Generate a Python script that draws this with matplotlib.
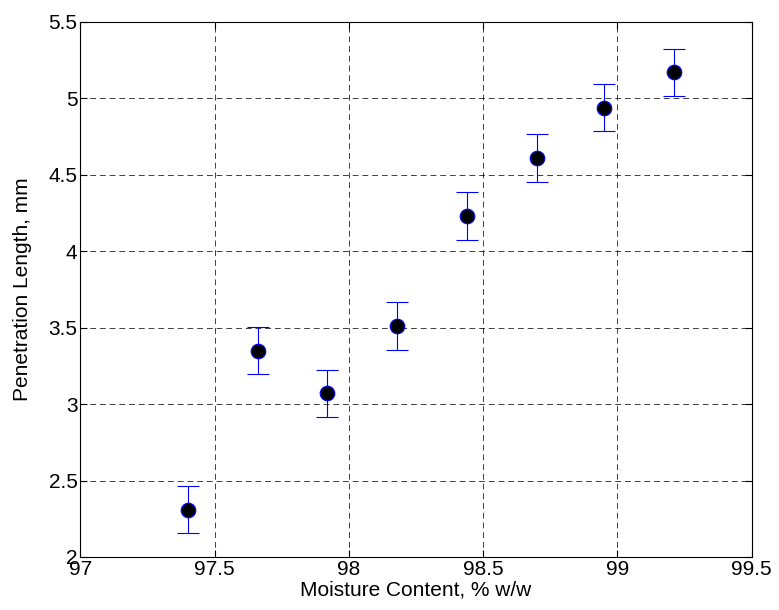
import numpy as np
import matplotlib.pyplot as plt

# moisture content (% w/w) and penetration length (mm)
moisture = [97.40, 97.66, 97.92, 98.18, 98.44, 98.70, 98.95, 99.21]
penetration = [2.31, 3.35, 3.07, 3.51, 4.23, 4.61, 4.94, 5.17]
err = [0.155, 0.155, 0.155, 0.155, 0.155, 0.155, 0.155, 0.155]

x_ticks = [97, 97.5, 98, 98.5, 99, 99.5]
x_labels = ['97', '97.5', '98', '98.5', '99', '99.5']
y_ticks = [2, 2.5, 3, 3.5, 4, 4.5, 5, 5.5]
y_labels = ['2', '2.5', '3', '3.5', '4', '4.5', '5', '5.5']

plt.rcParams['font.family'] = ['Liberation Sans', 'DejaVu Sans']

fig = plt.figure(figsize=(7.79, 6.10), dpi=100)
ax = fig.add_axes([0.103, 0.087, 0.862, 0.877])

ax.errorbar(moisture, penetration, yerr=err, fmt='none', ecolor='blue',
            elinewidth=0.8, capsize=8, capthick=0.8, zorder=3)
ax.plot(moisture, penetration, 'o', markersize=10.5, markerfacecolor='black',
        markeredgecolor='blue', markeredgewidth=0.8, zorder=4)

ax.set_xlim(97, 99.5)
ax.set_ylim(2, 5.5)
ax.set_xticks(x_ticks)
ax.set_xticklabels(x_labels)
ax.set_yticks(y_ticks)
ax.set_yticklabels(y_labels)
ax.grid(True, color='black', linestyle=(0, (6, 4)), linewidth=0.7, alpha=0.75)
ax.tick_params(direction='in', top=True, right=True, labelsize=15, length=5, pad=2)
for s in ax.spines.values():
    s.set_linewidth(0.8)

ax.set_xlabel('Moisture Content, % w/w', fontsize=15, labelpad=1)
ax.set_ylabel('Penetration Length, mm', fontsize=15, labelpad=12)

fig.savefig('out.png', dpi=100)
